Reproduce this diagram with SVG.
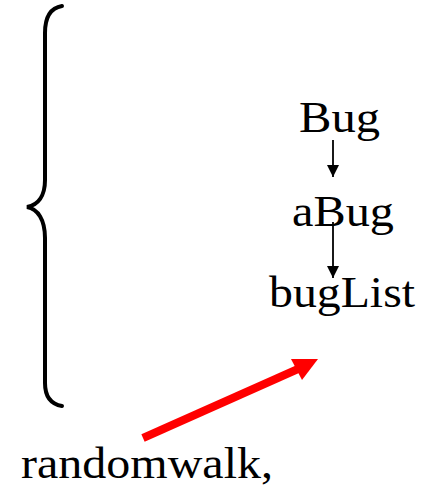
<svg xmlns="http://www.w3.org/2000/svg" width="423" height="489" viewBox="0 0 423 489">
<style>
.t{font-family:"Liberation Serif","Times New Roman",serif;font-size:44px;fill:#000}
.brace{fill:none;stroke:#000;stroke-width:4;stroke-linecap:round}
.blk{stroke:#000;stroke-width:1.8;fill:none}
</style>
<defs>
<marker id="ah" markerUnits="userSpaceOnUse" markerWidth="12" markerHeight="13" refX="12" refY="6" orient="auto" viewBox="0 0 12 12">
<path d="M0,0 L12,6 L0,12 Z" fill="#000"/>
</marker>
</defs>
<rect width="423" height="489" fill="#fff"/>
<g id="brace"><path class="brace" d="M62,6 C50,8 45,18 45,33 L45,180 C45,196 38,205 27,207 C38,209 45,220 45,238 L45,383 C45,396 50,404 62,406"/></g>
<g id="connectors">
<line class="blk" x1="333" y1="140" x2="333" y2="177" marker-end="url(#ah)"/>
<line class="blk" x1="333" y1="222" x2="333" y2="278" marker-end="url(#ah)"/>
<line x1="143" y1="438" x2="298" y2="369" stroke="#ff0000" stroke-width="8"/>
<polygon points="318,359 291,359 302,380" fill="#ff0000"/>
</g>
<g id="n-bug"><text class="t" x="299" y="132" textLength="81" lengthAdjust="spacingAndGlyphs">Bug</text></g>
<g id="n-abug"><text class="t" x="292" y="226" textLength="102" lengthAdjust="spacingAndGlyphs">aBug</text></g>
<g id="n-buglist"><text class="t" x="269" y="307" textLength="146" lengthAdjust="spacingAndGlyphs">bugList</text></g>
<g id="n-randomwalk"><text class="t" x="21" y="478" textLength="252" lengthAdjust="spacingAndGlyphs">randomwalk,</text></g>
</svg>
